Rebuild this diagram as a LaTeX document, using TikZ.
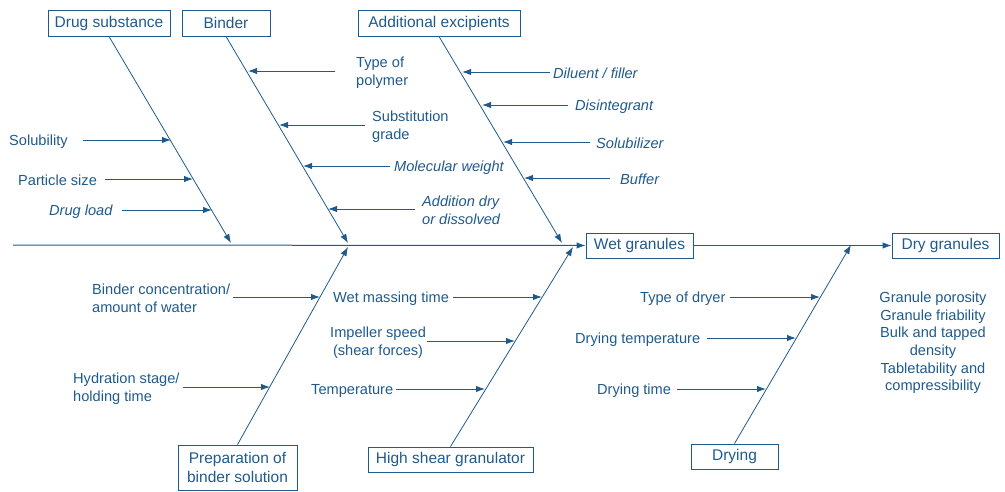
\documentclass[tikz,border=0pt]{standalone}
\usepackage{fontspec}
\setmainfont{Liberation Sans}
\usetikzlibrary{arrows.meta,calc}
\definecolor{fishblue}{RGB}{31,90,140}
\begin{document}
\begin{tikzpicture}[x=1pt,y=-1pt,
  every node/.style={text=fishblue, inner sep=0pt},
  catbox/.style={draw=fishblue, line width=0.9pt, font=\fontsize{15.5}{19}\selectfont, align=center},
  lbl/.style={font=\fontsize{14.6}{18}\selectfont, align=left, anchor=west, yshift=-1.5pt},
  ilbl/.style={lbl, font=\fontsize{14.6}{18}\selectfont\itshape},
  bone/.style={draw=fishblue, line width=0.8pt, -{Latex[length=9pt,width=6.5pt]}},
  cause/.style={draw=fishblue, line width=1pt, -{Latex[length=9pt,width=6.5pt]}},
]
\useasboundingbox (0,0) rectangle (1005,491);

% category boxes
\node[catbox, minimum width=122pt, minimum height=26pt] (ds) at (109,23) {Drug substance};
\node[catbox, minimum width=88pt, minimum height=26pt] (bi) at (226,23) {Binder};
\node[catbox, minimum width=162pt, minimum height=26pt] (ae) at (439,23) {Additional excipients};
\node[catbox, minimum width=119pt, minimum height=45pt] (pb) at (237.5,467.5) {Preparation of\\binder solution};
\node[catbox, minimum width=165pt, minimum height=25pt] (hs) at (450.5,459.5) {High shear granulator};
\node[catbox, minimum width=87pt, minimum height=25pt] (dr) at (734.5,456.5) {Drying};

% effect boxes
\node[catbox, minimum width=107pt, minimum height=25pt] (wet) at (639.5,245.5) {Wet granules};
\node[catbox, minimum width=107pt, minimum height=25pt] (dry) at (945.5,245.5) {Dry granules};

% spine
\coordinate (tail) at (13,245);
\draw[cause] (tail) -- (wet.west);
\draw[cause] (wet.east) -- (dry.west);

% bone end points
\coordinate (dsE) at (231,243);
\coordinate (biE) at (348,243);
\coordinate (aeE) at (562,243);
\coordinate (pbE) at (348,247);
\coordinate (hsE) at (573,247);
\coordinate (drE) at (851,245);

\draw[bone] (ds.south) -- (dsE);
\draw[bone] (bi.south) -- (biE);
\draw[bone] (ae.south) -- (aeE);
\draw[bone] (pb.north) -- (pbE);
\draw[bone] (hs.north) -- (hsE);
\draw[bone] (dr.north) -- (drE);

% drug substance causes
\node[lbl] (sol) at (9,140) {Solubility};
\node[lbl] (ps) at (18,179) {Particle size};
\node[ilbl] (dl) at (49,210) {Drug load};
\coordinate (tSol) at (171,140);
\coordinate (tPs) at (193,179);
\coordinate (tDl) at (212,210);
\draw[cause] ($(sol.east |- tSol)+(15,0)$) -- (tSol);
\draw[cause] ($(ps.east |- tPs)+(8,0)$) -- (tPs);
\draw[cause] ($(dl.east |- tDl)+(9,0)$) -- (tDl);

% binder causes
\node[lbl] (tp) at (356,71) {Type of\\polymer};
\node[lbl] (sg) at (372,125) {Substitution\\grade};
\node[ilbl] (mw) at (394,166) {Molecular weight};
\node[ilbl] (ad) at (422,209) {Addition dry\\or dissolved};
\coordinate (tTp) at (248,71);
\coordinate (tSg) at (279,125);
\coordinate (tMw) at (303,166);
\coordinate (tAd) at (328,209);
\draw[cause] ($(tp.west |- tTp)+(-21,0)$) -- (tTp);
\draw[cause] ($(sg.west |- tSg)+(-7,0)$) -- (tSg);
\draw[cause] ($(mw.west |- tMw)+(-4,0)$) -- (tMw);
\draw[cause] ($(ad.west |- tAd)+(-7,0)$) -- (tAd);

% additional excipient causes
\node[ilbl] (df) at (553,72) {Diluent / filler};
\node[ilbl] (di) at (575,105) {Disintegrant};
\node[ilbl] (su) at (596,142) {Solubilizer};
\node[ilbl] (bu) at (620,178) {Buffer};
\coordinate (tDf) at (462,72);
\coordinate (tDi) at (482,105);
\coordinate (tSu) at (503,142);
\coordinate (tBu) at (524,178);
\draw[cause] ($(df.west |- tDf)+(-3,0)$) -- (tDf);
\draw[cause] ($(di.west |- tDi)+(-7,0)$) -- (tDi);
\draw[cause] ($(su.west |- tSu)+(-6,0)$) -- (tSu);
\draw[cause] ($(bu.west |- tBu)+(-10,0)$) -- (tBu);

% binder solution causes
\node[lbl] (bc) at (92,297) {Binder concentration/\\amount of water};
\node[lbl] (hy) at (73,387) {Hydration stage/\\holding time};
\coordinate (tBc) at (320,297);
\coordinate (tHy) at (270,387);
\draw[cause] ($(bc.east |- tBc)+(3,0)$) -- (tBc);
\draw[cause] ($(hy.east |- tHy)+(3,0)$) -- (tHy);

% granulator causes
\node[lbl] (wm) at (333,297) {Wet massing time};
\node[lbl, align=center] (is) at (330,341) {Impeller speed\\(shear forces)};
\node[lbl] (te) at (311,389) {Temperature};
\coordinate (tWm) at (542,297);
\coordinate (tIs) at (515,341);
\coordinate (tTe) at (485,389);
\draw[cause] ($(wm.east |- tWm)+(4,0)$) -- (tWm);
\draw[cause] ($(is.east |- tIs)+(1,0)$) -- (tIs);
\draw[cause] ($(te.east |- tTe)+(3,0)$) -- (tTe);

% drying causes
\node[lbl] (ty) at (640,297) {Type of dryer};
\node[lbl] (dt) at (575,338) {Drying temperature};
\node[lbl] (dm) at (597,389) {Drying time};
\coordinate (tTy) at (820,297);
\coordinate (tDt) at (796,338);
\coordinate (tDm) at (766,389);
\draw[cause] ($(ty.east |- tTy)+(4,0)$) -- (tTy);
\draw[cause] ($(dt.east |- tDt)+(7,0)$) -- (tDt);
\draw[cause] ($(dm.east |- tDm)+(6,0)$) -- (tDm);

% dry granule attributes
\node[font=\fontsize{14.6}{17.6}\selectfont, align=center] (attr) at (933,343)
  {Granule porosity\\Granule friability\\Bulk and tapped\\density\\Tabletability and\\compressibility};
\end{tikzpicture}
\end{document}
